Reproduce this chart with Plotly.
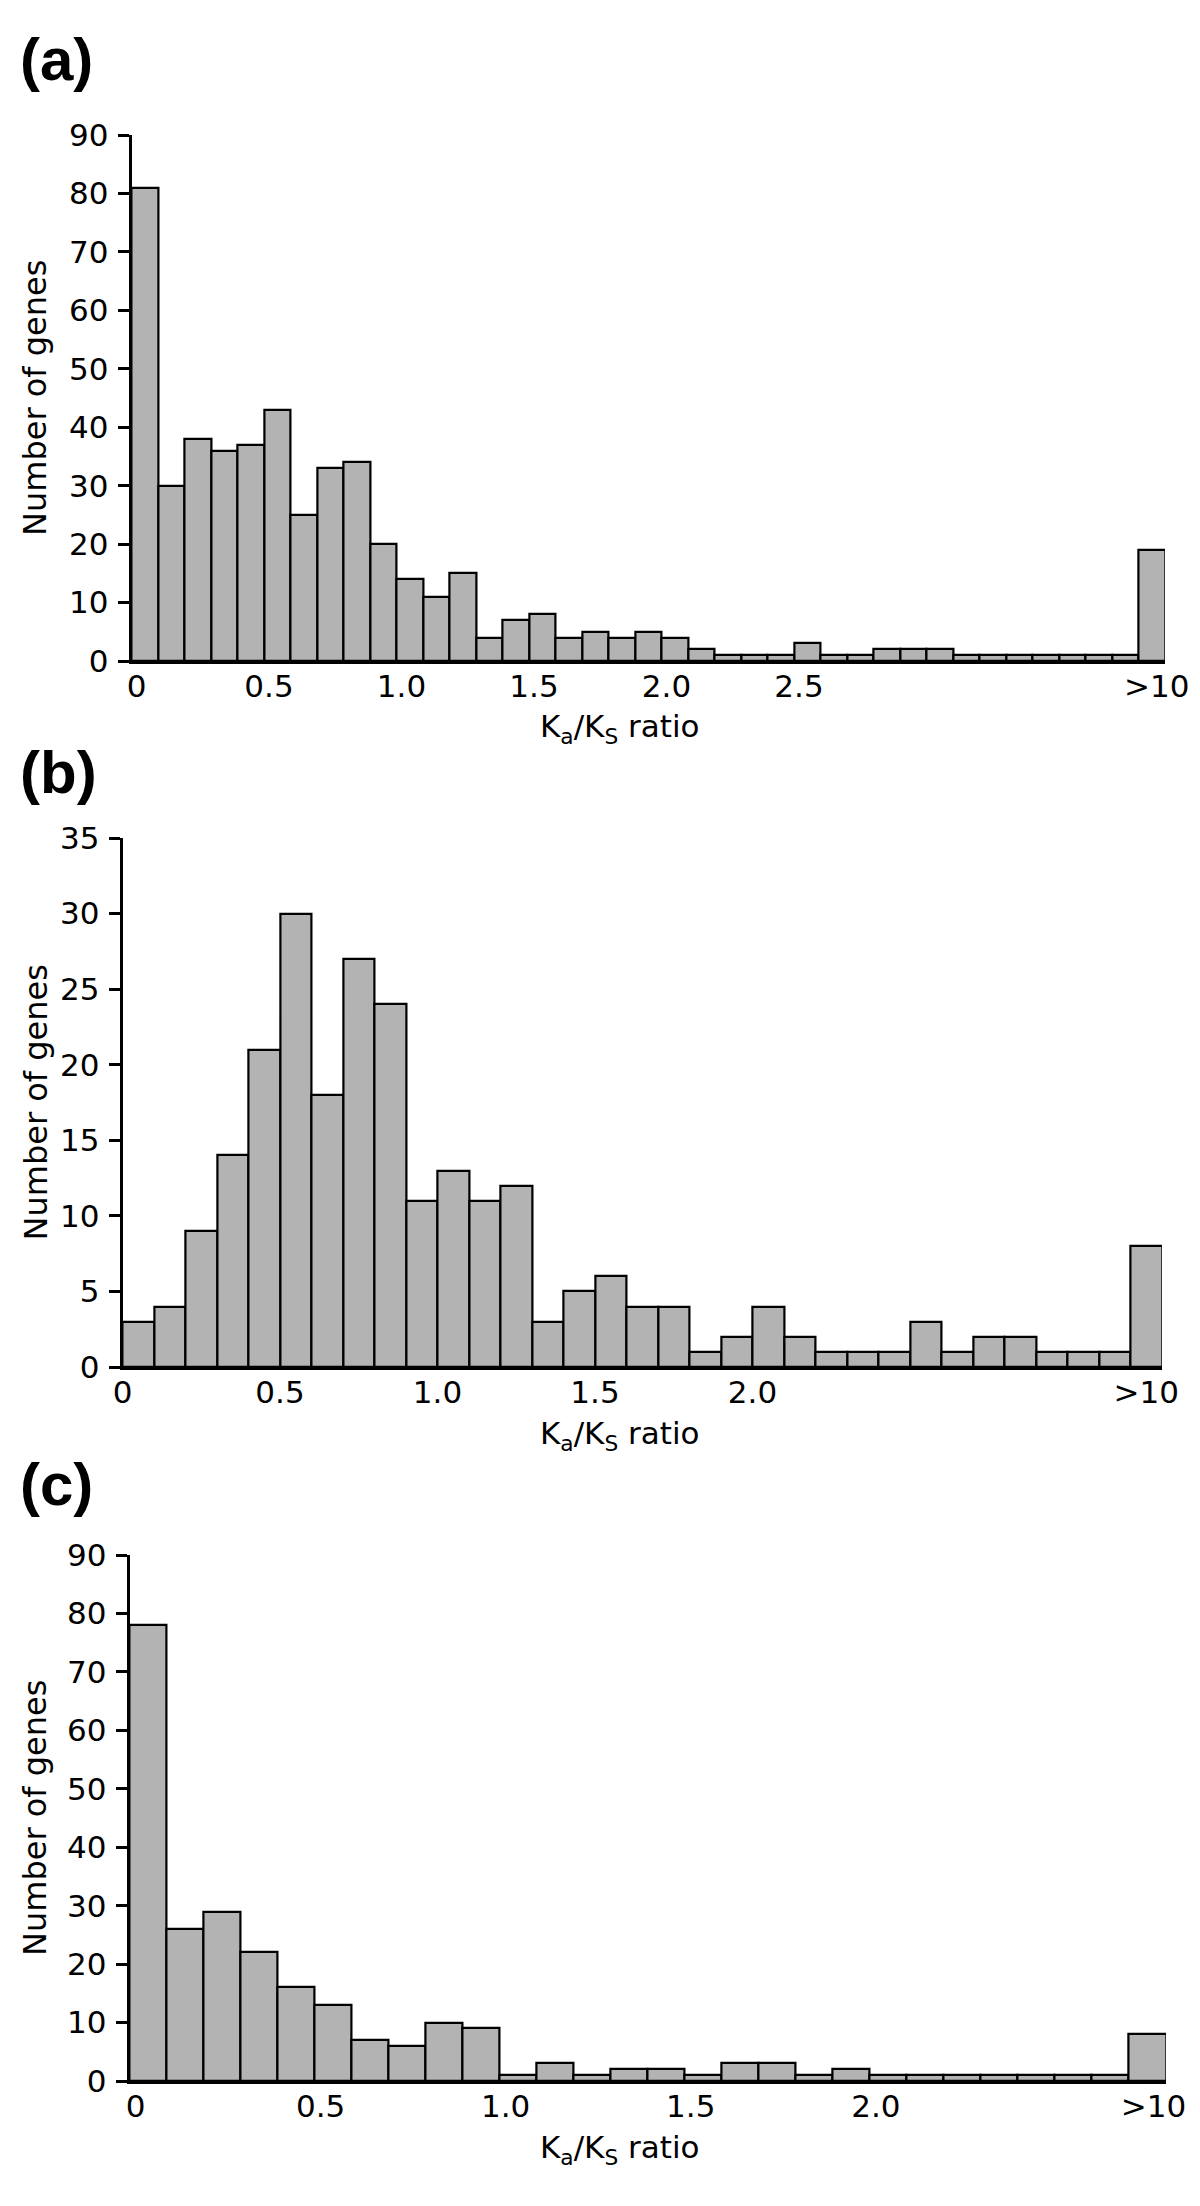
import plotly.graph_objects as go

# Ka/Ks histograms, bins of 0.1 starting at 0, last bin is ">10"
BIN_WIDTH = 0.1

counts_a = [81, 30, 38, 36, 37, 43, 25, 33, 34, 20,
            14, 11, 15, 4, 7, 8, 4, 5, 4, 5,
            4, 2, 1, 1, 1, 3, 1, 1, 2, 2,
            2, 1, 1, 1, 1, 1, 1, 1, 19]
counts_b = [3, 4, 9, 14, 21, 30, 18, 27, 24, 11,
            13, 11, 12, 3, 5, 6, 4, 4, 1, 2,
            4, 2, 1, 1, 1, 3, 1, 2, 2, 1,
            1, 1, 8]
counts_c = [78, 26, 29, 22, 16, 13, 7, 6, 10, 9,
            1, 3, 1, 2, 2, 1, 3, 3, 1, 2,
            1, 1, 1, 1, 1, 1, 1, 8]

ticks_a = ['0', '0.5', '1.0', '1.5', '2.0', '2.5']
ticks_b = ['0', '0.5', '1.0', '1.5', '2.0']
ticks_c = ['0', '0.5', '1.0', '1.5', '2.0']
last_label = '>10'

panel_labels = ['(a)', '(b)', '(c)']
ymax = [90, 35, 90]
ystep = [10, 5, 10]

W, H = 1200, 2206
FONT = 'DejaVu Sans'
BAR_FILL = '#b3b3b3'


def px_x(v):
    return v / W


def px_y(v):
    return 1 - v / H


# pixel boxes of the plotting areas: left, right, top (ymax), bottom (0)
boxes = [
    (123.5, 1157, 127, 653),
    (114.5, 1154, 830, 1359),
    (121.5, 1158, 1547, 2073),
]
label_y = [51, 764, 1476]
label_shift = [5, 0, 6]

fig = go.Figure()
annotations = []

for k, (counts, ticks) in enumerate(zip([counts_a, counts_b, counts_c],
                                        [ticks_a, ticks_b, ticks_c])):
    n = len(counts)
    xs = [(i + 0.5) * BIN_WIDTH for i in range(n)]
    sfx = '' if k == 0 else str(k + 1)

    fig.add_trace(go.Bar(
        x=xs, y=counts, width=BIN_WIDTH,
        marker=dict(color=BAR_FILL, line=dict(color='black', width=2.2)),
        xaxis='x' + sfx, yaxis='y' + sfx,
        hoverinfo='skip',
    ))

    left, right, top, bottom = boxes[k]
    tickvals = [float(t) for t in ticks] + [xs[-1]]
    ticktext = ticks + [last_label]

    fig.layout['xaxis' + sfx] = dict(
        domain=[px_x(left), px_x(right)],
        range=[0, n * BIN_WIDTH],
        anchor='y' + sfx, automargin=False,
        showline=True, linecolor='black', linewidth=2.5,
        ticks='', tickvals=tickvals, ticktext=ticktext,
        ticklabelstandoff=-4, ticklabelshift=label_shift[k],
        tickfont=dict(family=FONT, size=31, color='black'),
        showgrid=False, zeroline=False,
    )
    fig.layout['yaxis' + sfx] = dict(
        domain=[px_y(bottom), px_y(top)],
        range=[0, ymax[k]],
        anchor='x' + sfx, automargin=False,
        showline=True, linecolor='black', linewidth=2.5,
        ticks='outside', ticklen=11, tickwidth=2.5, tickcolor='black',
        dtick=ystep[k], tick0=0,
        ticklabelstandoff=3,
        tickfont=dict(family=FONT, size=31, color='black'),
        showgrid=False, zeroline=False,
    )

    # panel letter
    annotations.append(dict(
        text='<b>' + panel_labels[k] + '</b>', xref='paper', yref='paper',
        x=px_x(10), y=px_y(label_y[k]), xanchor='left', yanchor='middle',
        showarrow=False, font=dict(family='Liberation Sans', size=60, color='black'),
    ))
    # y title
    annotations.append(dict(
        text='Number of genes', xref='paper', yref='paper',
        x=px_x(27), y=px_y((top + bottom) / 2), xanchor='center', yanchor='middle',
        textangle=-90, showarrow=False,
        font=dict(family=FONT, size=32, color='black'),
    ))
    # x title
    annotations.append(dict(
        text='K<sub>a</sub>/K<sub>S</sub> ratio', xref='paper', yref='paper',
        x=px_x(612), y=px_y(bottom + 68), xanchor='center', yanchor='middle',
        showarrow=False, font=dict(family=FONT, size=31, color='black'),
    ))

fig.update_layout(
    template='none',
    width=W, height=H,
    margin=dict(l=0, r=0, t=0, b=0, pad=0),
    paper_bgcolor='white', plot_bgcolor='white',
    showlegend=False, bargap=0,
    annotations=annotations,
)

fig.write_html('out.html')
